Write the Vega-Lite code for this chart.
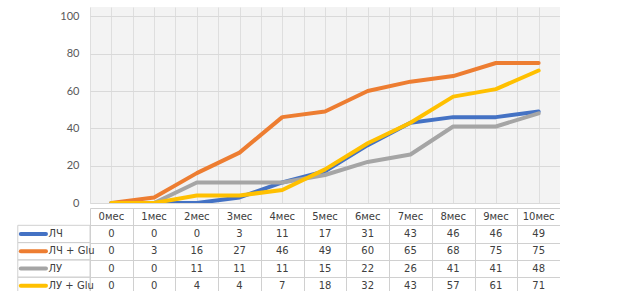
{
  "$schema": "https://vega.github.io/schema/vega-lite/v6.json",
  "padding": {"left": 17, "top": 7, "right": 0, "bottom": 0},
  "background": "white",
  "spacing": 0,
  "config": {"view": {"stroke": null}, "font": "Lato"},
  "data": {"values": [
    {"s": "ЛЧ", "m": 0, "l": "0мес", "v": 0},
    {"s": "ЛЧ", "m": 1, "l": "1мес", "v": 0},
    {"s": "ЛЧ", "m": 2, "l": "2мес", "v": 0},
    {"s": "ЛЧ", "m": 3, "l": "3мес", "v": 3},
    {"s": "ЛЧ", "m": 4, "l": "4мес", "v": 11},
    {"s": "ЛЧ", "m": 5, "l": "5мес", "v": 17},
    {"s": "ЛЧ", "m": 6, "l": "6мес", "v": 31},
    {"s": "ЛЧ", "m": 7, "l": "7мес", "v": 43},
    {"s": "ЛЧ", "m": 8, "l": "8мес", "v": 46},
    {"s": "ЛЧ", "m": 9, "l": "9мес", "v": 46},
    {"s": "ЛЧ", "m": 10, "l": "10мес", "v": 49},
    {"s": "ЛЧ + Glu", "m": 0, "l": "0мес", "v": 0},
    {"s": "ЛЧ + Glu", "m": 1, "l": "1мес", "v": 3},
    {"s": "ЛЧ + Glu", "m": 2, "l": "2мес", "v": 16},
    {"s": "ЛЧ + Glu", "m": 3, "l": "3мес", "v": 27},
    {"s": "ЛЧ + Glu", "m": 4, "l": "4мес", "v": 46},
    {"s": "ЛЧ + Glu", "m": 5, "l": "5мес", "v": 49},
    {"s": "ЛЧ + Glu", "m": 6, "l": "6мес", "v": 60},
    {"s": "ЛЧ + Glu", "m": 7, "l": "7мес", "v": 65},
    {"s": "ЛЧ + Glu", "m": 8, "l": "8мес", "v": 68},
    {"s": "ЛЧ + Glu", "m": 9, "l": "9мес", "v": 75},
    {"s": "ЛЧ + Glu", "m": 10, "l": "10мес", "v": 75},
    {"s": "ЛУ", "m": 0, "l": "0мес", "v": 0},
    {"s": "ЛУ", "m": 1, "l": "1мес", "v": 0},
    {"s": "ЛУ", "m": 2, "l": "2мес", "v": 11},
    {"s": "ЛУ", "m": 3, "l": "3мес", "v": 11},
    {"s": "ЛУ", "m": 4, "l": "4мес", "v": 11},
    {"s": "ЛУ", "m": 5, "l": "5мес", "v": 15},
    {"s": "ЛУ", "m": 6, "l": "6мес", "v": 22},
    {"s": "ЛУ", "m": 7, "l": "7мес", "v": 26},
    {"s": "ЛУ", "m": 8, "l": "8мес", "v": 41},
    {"s": "ЛУ", "m": 9, "l": "9мес", "v": 41},
    {"s": "ЛУ", "m": 10, "l": "10мес", "v": 48},
    {"s": "ЛУ + Glu", "m": 0, "l": "0мес", "v": 0},
    {"s": "ЛУ + Glu", "m": 1, "l": "1мес", "v": 0},
    {"s": "ЛУ + Glu", "m": 2, "l": "2мес", "v": 4},
    {"s": "ЛУ + Glu", "m": 3, "l": "3мес", "v": 4},
    {"s": "ЛУ + Glu", "m": 4, "l": "4мес", "v": 7},
    {"s": "ЛУ + Glu", "m": 5, "l": "5мес", "v": 18},
    {"s": "ЛУ + Glu", "m": 6, "l": "6мес", "v": 32},
    {"s": "ЛУ + Glu", "m": 7, "l": "7мес", "v": 43},
    {"s": "ЛУ + Glu", "m": 8, "l": "8мес", "v": 57},
    {"s": "ЛУ + Glu", "m": 9, "l": "9мес", "v": 61},
    {"s": "ЛУ + Glu", "m": 10, "l": "10мес", "v": 71}
  ]},
  "resolve": {"scale": {"x": "independent", "y": "independent"}},
  "vconcat": [
    {
      "width": 470,
      "height": 196,
      "view": {"fill": "#f3f3f3", "stroke": null},
      "mark": {"type": "line", "strokeWidth": 4, "clip": true, "strokeCap": "round", "strokeJoin": "round"},
      "encoding": {
        "x": {"field": "m", "type": "quantitative",
          "scale": {"domain": [-0.5, 10.5], "nice": false, "zero": false},
          "axis": {"values": [-0.5, 0, 0.5, 1, 1.5, 2, 2.5, 3, 3.5, 4, 4.5, 5, 5.5, 6, 6.5, 7, 7.5, 8, 8.5, 9, 9.5, 10, 10.5],
            "labels": false, "ticks": false, "domain": true, "domainColor": "#d9d9d9", "gridColor": "#dedede", "title": null}},
        "y": {"field": "v", "type": "quantitative",
          "scale": {"domain": [0, 105], "nice": false},
          "axis": {"values": [0, 20, 40, 60, 80, 100], "domain": false, "ticks": false, "labelPadding": 11,
            "labelFontSize": 11, "labelColor": "#595959", "gridColor": "#d9d9d9", "title": null}},
        "color": {"field": "s", "type": "nominal",
          "scale": {"domain": ["ЛЧ", "ЛЧ + Glu", "ЛУ", "ЛУ + Glu"], "range": ["#4472c4", "#ed7d31", "#a5a5a5", "#ffc000"]},
          "legend": null}
      }
    },
    {
      "width": 470,
      "height": 86.5,
      "encoding": {
        "x": {"field": "m", "type": "quantitative",
          "scale": {"domain": [-0.5, 10.5], "nice": false, "zero": false},
          "axis": {"values": [-0.5, 0.5, 1.5, 2.5, 3.5, 4.5, 5.5, 6.5, 7.5, 8.5, 9.5, 10.5],
            "labels": false, "ticks": false, "domain": false, "grid": true, "gridColor": "#d0d0d0", "gridOpacity": 1, "title": null}},
        "y": {"field": "s", "type": "nominal",
          "scale": {"domain": ["hdr", "ЛЧ", "ЛЧ + Glu", "ЛУ", "ЛУ + Glu"], "paddingInner": 0, "paddingOuter": 0},
          "axis": {"labels": false, "ticks": false, "domain": false, "grid": true, "tickBand": "extent", "gridColor": "#d0d0d0", "gridOpacity": 1, "title": null}}
      },
      "layer": [
        {
          "mark": {"type": "text", "align": "center", "font": "DejaVu Sans", "fontSize": 10, "color": "#404040"},
          "encoding": {
            "text": {"field": "v"}
          }
        },
        {
          "transform": [{"filter": "datum.m === 0"}],
          "mark": {"type": "rect", "fill": "transparent", "stroke": "#d0d0d0", "strokeWidth": 1},
          "encoding": {
            "x": {"datum": -2.19, "type": "quantitative"},
            "x2": {"datum": -0.5}
          }
        },
        {
          "transform": [{"filter": "datum.m === 0"}],
          "mark": {"type": "rule", "strokeWidth": 4, "strokeCap": "round"},
          "encoding": {
            "x": {"datum": -2.12, "type": "quantitative"},
            "x2": {"datum": -1.53},
            "color": {"field": "s", "type": "nominal", "legend": null}
          }
        },
        {
          "transform": [{"filter": "datum.m === 0"}],
          "mark": {"type": "text", "align": "left", "font": "DejaVu Sans", "fontSize": 10, "color": "#404040"},
          "encoding": {
            "x": {"datum": -1.47, "type": "quantitative"},
            "text": {"field": "s"}
          }
        },
        {
          "transform": [{"filter": "datum.s === 'ЛЧ'"}],
          "mark": {"type": "text", "align": "center", "font": "DejaVu Sans", "fontSize": 10, "color": "#404040"},
          "encoding": {
            "y": {"datum": "hdr", "type": "nominal"},
            "text": {"field": "l"}
          }
        }
      ]
    }
  ]
}
